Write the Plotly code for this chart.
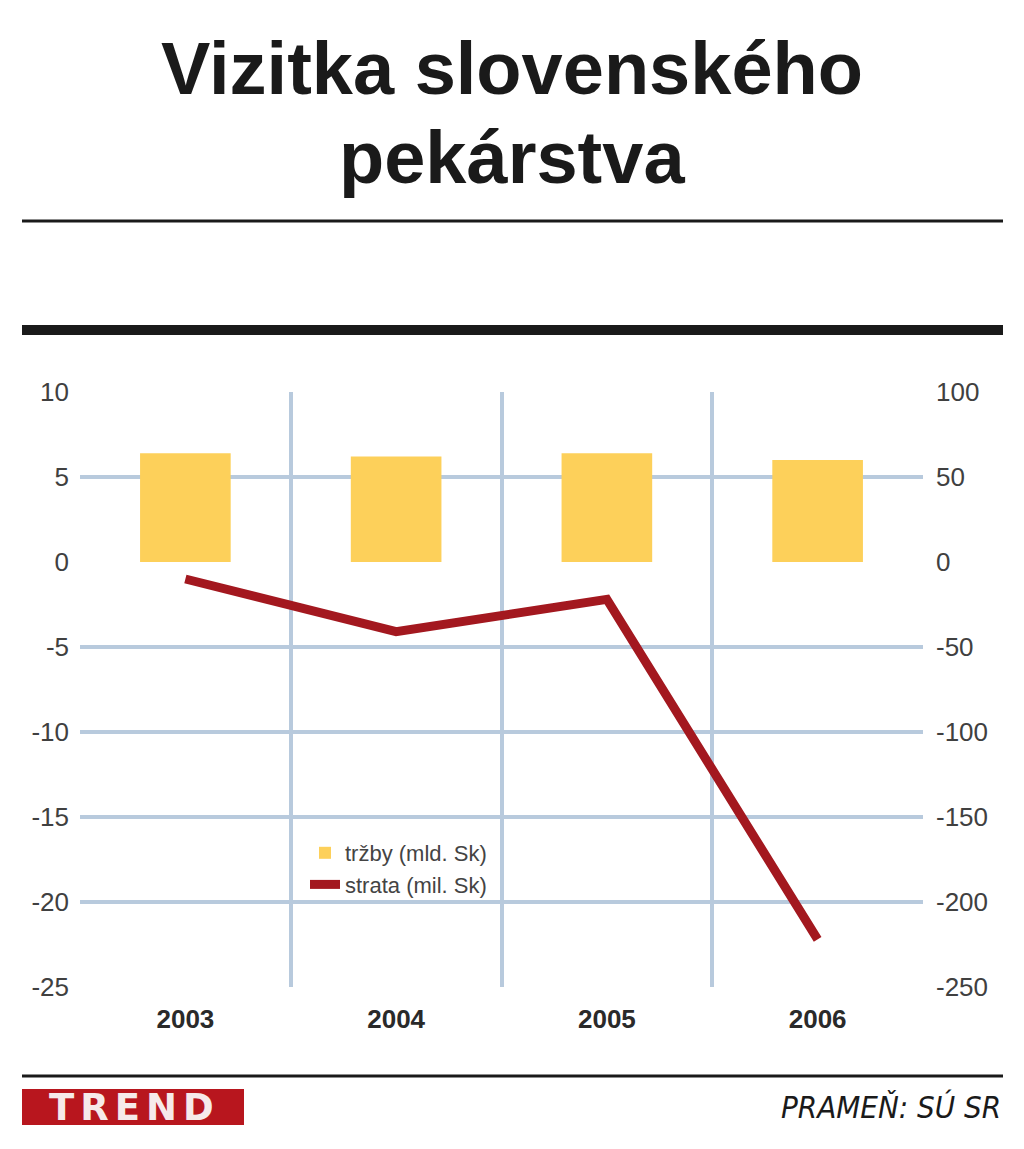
import plotly.graph_objects as go

years = ["2003", "2004", "2005", "2006"]
trzby = [6.4, 6.2, 6.4, 6.0]          # mld. Sk (left axis)
strata = [-10, -41, -22, -222]        # mil. Sk (right axis)
left_ticks = [10, 5, 0, -5, -10, -15, -20, -25]
right_ticks = [100, 50, 0, -50, -100, -150, -200, -250]
grid_vals = [5, -5, -10, -15, -20, -25]
series_names = ["tržby (mld. Sk)", "strata (mil. Sk)"]

W, H = 1024, 1149
OFF = 8  # page body margin in the browser
# plot area in screen pixels
L, R, T, B = 80, 923, 392, 987


def px(x):
    return (x - L) / (R - L)


def py(y):
    return (B - y) / (B - T)


def lab(v):
    return str(v).replace("\u2212", "-")


def spaced(s, sp):
    return '<span style="letter-spacing:%gpx">%s</span>' % (sp, s)


xpos = list(range(len(years)))
GRID = "#b8cadd"
TICKFONT = dict(family="Liberation Sans, Arial, sans-serif", size=26, color="#404040")

fig = go.Figure()
fig.add_trace(go.Bar(
    x=xpos, y=trzby, name=series_names[0], width=0.43,
    marker=dict(color="#fdd05a", line=dict(width=0)), yaxis="y",
))
fig.add_trace(go.Scatter(
    x=xpos, y=strata, name=series_names[1], mode="lines",
    line=dict(color="#a3181f", width=9), yaxis="y2",
))

fig.update_layout(
    width=W, height=H,
    margin=dict(l=L - OFF, r=W - (R - OFF), t=T - OFF, b=H - (B - OFF), autoexpand=False),
    paper_bgcolor="white", plot_bgcolor="white",
    showlegend=True,
    legend=dict(
        x=px(305), y=py(832), xanchor="left", yanchor="top",
        bgcolor="rgba(0,0,0,0)",
        font=dict(family="Liberation Sans, Arial, sans-serif", size=22, color="#444"),
        tracegroupgap=0, itemwidth=30,
    ),
    xaxis=dict(
        range=[-0.5, 3.5], tickmode="array", tickvals=xpos, ticktext=years,
        showgrid=False, zeroline=False, showline=False, ticks="",
        tickfont=dict(family="Liberation Sans, Arial, sans-serif", size=26, color="#2a2a2a",
                      weight="bold"),
        ticklabelstandoff=14,
        minor=dict(tickmode="array", tickvals=[0.5, 1.5, 2.5], showgrid=True,
                   gridcolor=GRID, gridwidth=4, ticks=""),
    ),
    yaxis=dict(
        range=[-25, 10], tickmode="array", tickvals=left_ticks,
        ticktext=[lab(v) for v in left_ticks],
        showgrid=False, zeroline=False, showline=False, ticks="",
        tickfont=TICKFONT, ticklabelstandoff=10,
        minor=dict(tickmode="array", tickvals=grid_vals, showgrid=True,
                   gridcolor=GRID, gridwidth=4, ticks=""),
    ),
    yaxis2=dict(
        range=[-250, 100], tickmode="array", tickvals=right_ticks,
        ticktext=[lab(v) for v in right_ticks],
        overlaying="y", side="right", showgrid=False, zeroline=False,
        showline=False, ticks="", tickfont=TICKFONT, ticklabelstandoff=12,
    ),
)

# Title
title_font = dict(family="Liberation Sans, Arial, sans-serif", size=74, color="#1a1a1a")
fig.add_annotation(text="<b>Vizitka slovenského</b>", x=px(512), y=py(69),
                   xref="paper", yref="paper", xanchor="center", yanchor="middle",
                   showarrow=False, font=title_font)
fig.add_annotation(text="<b>pekárstva</b>", x=px(512), y=py(157),
                   xref="paper", yref="paper", xanchor="center", yanchor="middle",
                   showarrow=False, font=title_font)

# Rules
fig.add_shape(type="line", xref="paper", yref="paper", x0=px(22), x1=px(1003),
              y0=py(221), y1=py(221), line=dict(color="#1a1a1a", width=3))
fig.add_shape(type="line", xref="paper", yref="paper", x0=px(22), x1=px(1003),
              y0=py(330), y1=py(330), line=dict(color="#1a1a1a", width=10))
fig.add_shape(type="line", xref="paper", yref="paper", x0=px(22), x1=px(1003),
              y0=py(1076), y1=py(1076), line=dict(color="#1a1a1a", width=3))

# TREND logo
fig.add_shape(type="rect", xref="paper", yref="paper", x0=px(22), x1=px(244),
              y0=py(1125), y1=py(1089), fillcolor="#b8161e", line=dict(width=0))
fig.add_annotation(text=spaced("<b>TREND</b>", 6),
                   x=px(134), y=py(1107), xref="paper", yref="paper",
                   xanchor="center", yanchor="middle", showarrow=False,
                   font=dict(family="DejaVu Sans, sans-serif", size=37, color="#f6eaea"))

# Source
fig.add_annotation(text="<i>PRAMEŇ: SÚ SR</i>", x=px(1003), y=py(1107), xref="paper", yref="paper",
                   xanchor="right", yanchor="middle", showarrow=False,
                   font=dict(family="Liberation Sans Narrow, DejaVu Sans Condensed, sans-serif",
                             size=31, color="#1a1a1a"))

fig.write_html("out.html")
